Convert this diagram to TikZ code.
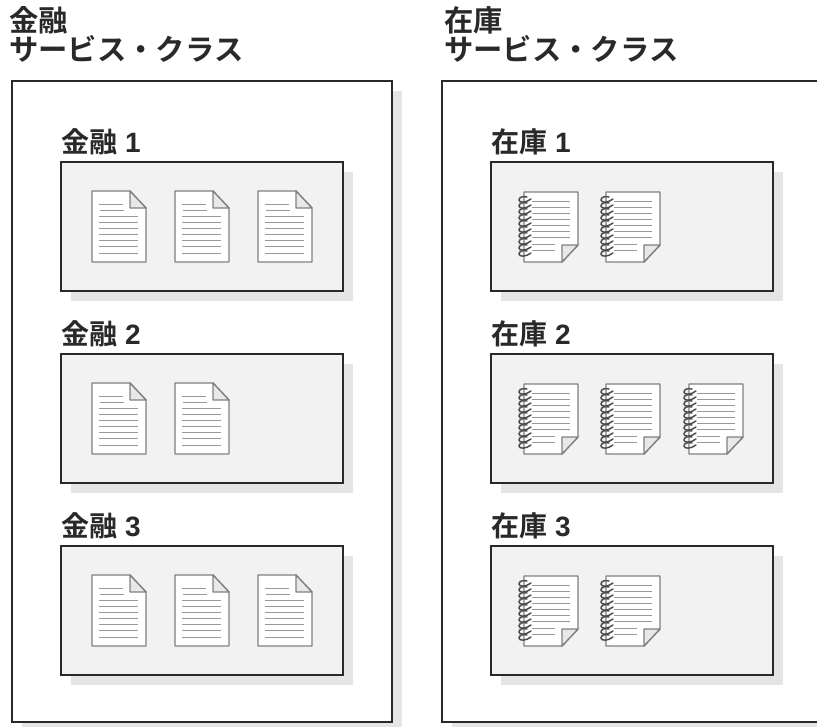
\documentclass[tikz,border=0pt]{standalone}
\usepackage{fontspec}
\setmainfont{Liberation Sans}
\newfontfamily\cjk{Noto Sans CJK JP}[BoldFont={Noto Sans CJK JP Bold}]
\usetikzlibrary{calc}

\definecolor{boxline}{gray}{0.16}
\definecolor{docline}{gray}{0.5}
\definecolor{ruleline}{gray}{0.6}
\definecolor{spiralline}{gray}{0.3}
\definecolor{panelfill}{gray}{0.95}
\definecolor{shadowfill}{gray}{0.9}
\definecolor{foldfill}{gray}{0.91}

\newlength{\unit}
\setlength{\unit}{0.75pt}

\tikzset{
classbox/.style={rectangle, draw=boxline, line width=1.4pt, fill=white, anchor=north west, minimum width=380\unit, minimum height=641\unit, inner sep=0pt, outer sep=0pt},
groupbox/.style={rectangle, draw=boxline, line width=1.4pt, fill=panelfill, anchor=north west, minimum width=282\unit, minimum height=129\unit, inner sep=0pt, outer sep=0pt},
title/.style={font=\bfseries\fontsize{22}{21.75}\selectfont\cjk, anchor=north west, align=left, inner sep=0pt, text=boxline},
caption/.style={font=\bfseries\fontsize{21}{22}\selectfont, anchor=base west, inner sep=0pt, text=boxline},
docsheet/.style={draw=docline, line width=1pt, fill=white, line join=round},
docfold/.style={draw=docline, line width=1pt, fill=foldfill, line join=round},
docrule/.style={draw=ruleline, line width=0.75pt},
}

% plain page with folded corner, top left at #1
\newcommand{\plaindoc}[1]{
\begin{scope}[shift={(#1)}]
\draw[docsheet] (0,0)--(38\unit,0)--(54\unit,-17\unit)--(54\unit,-71\unit)--(0,-71\unit)--cycle;
\draw[docfold] (38\unit,0)--(38\unit,-17\unit)--(54\unit,-17\unit)--cycle;
\draw[docrule] (7\unit,-13\unit)--(31\unit,-13\unit);
\draw[docrule] (8\unit,-19\unit)--(32\unit,-19\unit);
\foreach \y in {25,31,37,43,49,55,62}
  \draw[docrule] (7\unit,-\y\unit)--(46\unit,-\y\unit);
\end{scope}
}
% spiral notebook with fold at the bottom right, top left at #1
\newcommand{\spiraldoc}[1]{
\begin{scope}[shift={(#1)}]
\draw[docsheet] (0,0)--(54\unit,0)--(54\unit,-53\unit)--(38\unit,-70\unit)--(0,-70\unit)--cycle;
\draw[docfold] (54\unit,-53\unit)--(38\unit,-53\unit)--(38\unit,-70\unit)--cycle;
\foreach \y in {9,15,21,27,33,39,45}
  \draw[docrule] (8\unit,-\y\unit)--(46\unit,-\y\unit);
\foreach \y in {52,58}
  \draw[docrule] (8\unit,-\y\unit)--(31\unit,-\y\unit);
\foreach \y in {8,14,20,26,32,38,44,50,56,62}
  \draw[spiralline,line width=1.1pt,line cap=round] (7\unit,-\y\unit+1\unit) .. controls (2\unit,-\y\unit-3\unit) and (-5\unit,-\y\unit-3\unit) .. (-5\unit,-\y\unit) .. controls (-5\unit,-\y\unit+3\unit) and (-1\unit,-\y\unit+4\unit) .. (3\unit,-\y\unit+3\unit);
\end{scope}
}

\begin{document}
\begin{tikzpicture}[x=0.75pt,y=-0.75pt]
\useasboundingbox (0,0) rectangle (817,726);

\begin{scope}
\clip (0,0) rectangle (817,726);
% shadows of the two classes
\fill[shadowfill] (22,91) rectangle (402,732);
\fill[shadowfill] (452,91) rectangle (832,732);
\draw (12,81) node[classbox] (FinClass) {};
\draw (442,81) node[classbox] (StockClass) {};
\end{scope}

\draw (9,6) node[title] (FinTitle) {金融\\サービス・クラス};
\draw (444,6) node[title] (StockTitle) {在庫\\サービス・クラス};

\foreach \n/\top in {1/162,2/354,3/546}{
\fill[shadowfill] (71,\top+10) rectangle (353,\top+139);
\fill[shadowfill] (501,\top+10) rectangle (783,\top+139);
\draw (61,\top) node[groupbox] (Fin\n) {};
\draw (491,\top) node[groupbox] (Stock\n) {};
\draw (61,\top-10) node[caption] (FinCap\n) {{\cjk 金融} \n};
\draw (491,\top-10) node[caption] (StockCap\n) {{\cjk 在庫} \n};
}

\plaindoc{92,191} \plaindoc{175,191} \plaindoc{258,191}
\plaindoc{92,383} \plaindoc{175,383}
\plaindoc{92,575} \plaindoc{175,575} \plaindoc{258,575}

\spiraldoc{524,192} \spiraldoc{606,192}
\spiraldoc{524,384} \spiraldoc{606,384} \spiraldoc{689,384}
\spiraldoc{524,576} \spiraldoc{606,576}

\end{tikzpicture}
\end{document}
